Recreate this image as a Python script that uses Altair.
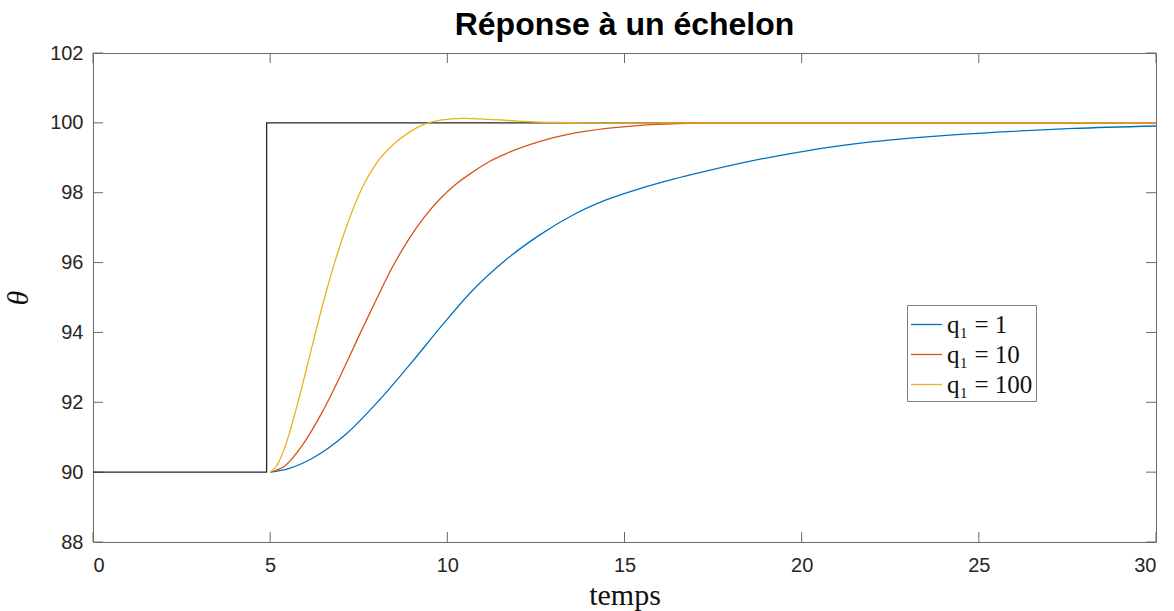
import altair as alt
import pandas as pd

# ---- data ----
t_step = [0, 4.9, 4.9, 30]
theta_step = [90, 90, 100, 100]

t_q1 = [5.0, 5.52, 6.18, 7.12, 8.07, 9.0, 9.85, 10.73, 11.68, 12.62, 13.56, 14.5,
        15.44, 16.38, 17.3, 18.26, 20.14, 22.02, 23.9, 25.79, 27.67, 30.0]
theta_q1 = [90.0, 90.10, 90.39, 91.07, 92.05, 93.15, 94.2, 95.22, 96.1, 96.8, 97.37, 97.8,
            98.12, 98.39, 98.62, 98.84, 99.2, 99.46, 99.63, 99.75, 99.84, 99.91]

t_q10 = [5.0, 5.43, 5.9, 6.47, 7.03, 7.59, 8.0, 8.44, 8.9, 9.35, 9.79, 10.25, 10.73,
         11.2, 11.68, 12.62, 13.5, 14.5, 15.44, 16.5, 17.5, 30.0]
theta_q10 = [90.0, 90.19, 90.76, 91.72, 92.86, 94.08, 94.95, 95.85, 96.65, 97.3, 97.82, 98.25, 98.6,
             98.9, 99.13, 99.47, 99.69, 99.84, 99.93, 99.98, 100.0, 100.0]

t_q100 = [5.0, 5.19, 5.43, 5.71, 6.0, 6.28, 6.55, 6.79, 7.25, 7.6, 8.0, 8.5, 8.95, 9.32,
          9.8, 10.45, 11.2, 12.0, 13.0, 14.0, 30.0]
theta_q100 = [90.0, 90.19, 90.76, 91.72, 92.86, 94.0, 95.05, 95.9, 97.3, 98.15, 98.85, 99.4, 99.75,
              99.95, 100.08, 100.13, 100.1, 100.05, 100.01, 100.0, 100.0]

series_names = ["q\u2081 = 1", "q\u2081 = 10", "q\u2081 = 100"]
series_colors = ["#0072BD", "#D95319", "#EDB120"]

x_ticks = [0, 5, 10, 15, 20, 25, 30]
y_ticks = [88, 90, 92, 94, 96, 98, 100, 102]

# ---- tables ----
step_df = pd.DataFrame({"t": t_step, "theta": theta_step, "order": list(range(len(t_step)))})
rows = []
for name, ts, ths in zip(series_names, [t_q1, t_q10, t_q100], [theta_q1, theta_q10, theta_q100]):
    for t, th in zip(ts, ths):
        rows.append({"t": t, "theta": th, "serie": name})
curves_df = pd.DataFrame(rows)
xt_df = pd.DataFrame({"t": x_ticks})
yt_df = pd.DataFrame({"theta": y_ticks})

W, H = 1063, 489
TICK = 10
box_color = "#6a6a6a"

xscale = alt.Scale(domain=[0, 30], nice=False, zero=False)
yscale = alt.Scale(domain=[88, 102], nice=False, zero=False)

x_axis = alt.Axis(values=x_ticks, title="temps", grid=False, domain=False, tickSize=0,
                  labelPadding=13, labelFont="Liberation Sans", labelFontSize=20,
                  labelColor="#262626", titleFont="Liberation Serif", titleFontSize=30,
                  titleFontWeight="normal", titleColor="#111111", titlePadding=5)
y_axis = alt.Axis(values=y_ticks, title="θ", grid=False, domain=False, tickSize=0,
                  labelPadding=10, labelFont="Liberation Sans", labelFontSize=20,
                  labelColor="#262626", titleFont="Liberation Serif", titleFontSize=30,
                  titleFontStyle="italic", titleFontWeight="normal", titleColor="#111111",
                  titlePadding=16)

step = alt.Chart(step_df).mark_line(color="#262626", strokeWidth=1.3).encode(
    x=alt.X("t:Q", scale=xscale, axis=x_axis),
    y=alt.Y("theta:Q", scale=yscale, axis=y_axis),
    order="order:Q",
)

curves = alt.Chart(curves_df).mark_line(strokeWidth=1.3, interpolate="monotone").encode(
    x=alt.X("t:Q", scale=xscale),
    y=alt.Y("theta:Q", scale=yscale),
    color=alt.Color(
        "serie:N",
        scale=alt.Scale(domain=series_names, range=series_colors),
        legend=alt.Legend(
            title=None, orient="none", legendX=814, legendY=252,
            direction="vertical", padding=3, strokeColor="#7f7f7f", fillColor="white",
            cornerRadius=0, symbolType="stroke", symbolSize=960, symbolStrokeWidth=1.3,
            labelFont="Liberation Serif", labelFontSize=25, labelColor="#111111",
            labelOffset=4, rowPadding=0, labelLimit=300,
        ),
    ),
)

tick_style = dict(color=box_color, strokeWidth=1)
bottom_ticks = alt.Chart(xt_df).mark_rule(**tick_style).encode(
    x=alt.X("t:Q", scale=xscale), y=alt.value(H), y2=alt.value(H - TICK))
top_ticks = alt.Chart(xt_df).mark_rule(**tick_style).encode(
    x=alt.X("t:Q", scale=xscale), y=alt.value(0), y2=alt.value(TICK))
left_ticks = alt.Chart(yt_df).mark_rule(**tick_style).encode(
    y=alt.Y("theta:Q", scale=yscale), x=alt.value(0), x2=alt.value(TICK))
right_ticks = alt.Chart(yt_df).mark_rule(**tick_style).encode(
    y=alt.Y("theta:Q", scale=yscale), x=alt.value(W), x2=alt.value(W - TICK))

chart = alt.layer(bottom_ticks, top_ticks, left_ticks, right_ticks, step, curves).properties(
    width=W, height=H,
    title=alt.TitleParams("Réponse à un échelon", font="Liberation Sans", fontSize=32,
                          fontWeight="bold", color="#000000", offset=1, anchor="middle"),
    autosize=alt.AutoSizeParams(type="none"),
    padding={"left": 93, "top": 53, "right": 18, "bottom": 69},
    background="white",
).configure_view(stroke=box_color, strokeWidth=1)

chart.save("out.html", embed_options={"renderer": "svg", "actions": False})
